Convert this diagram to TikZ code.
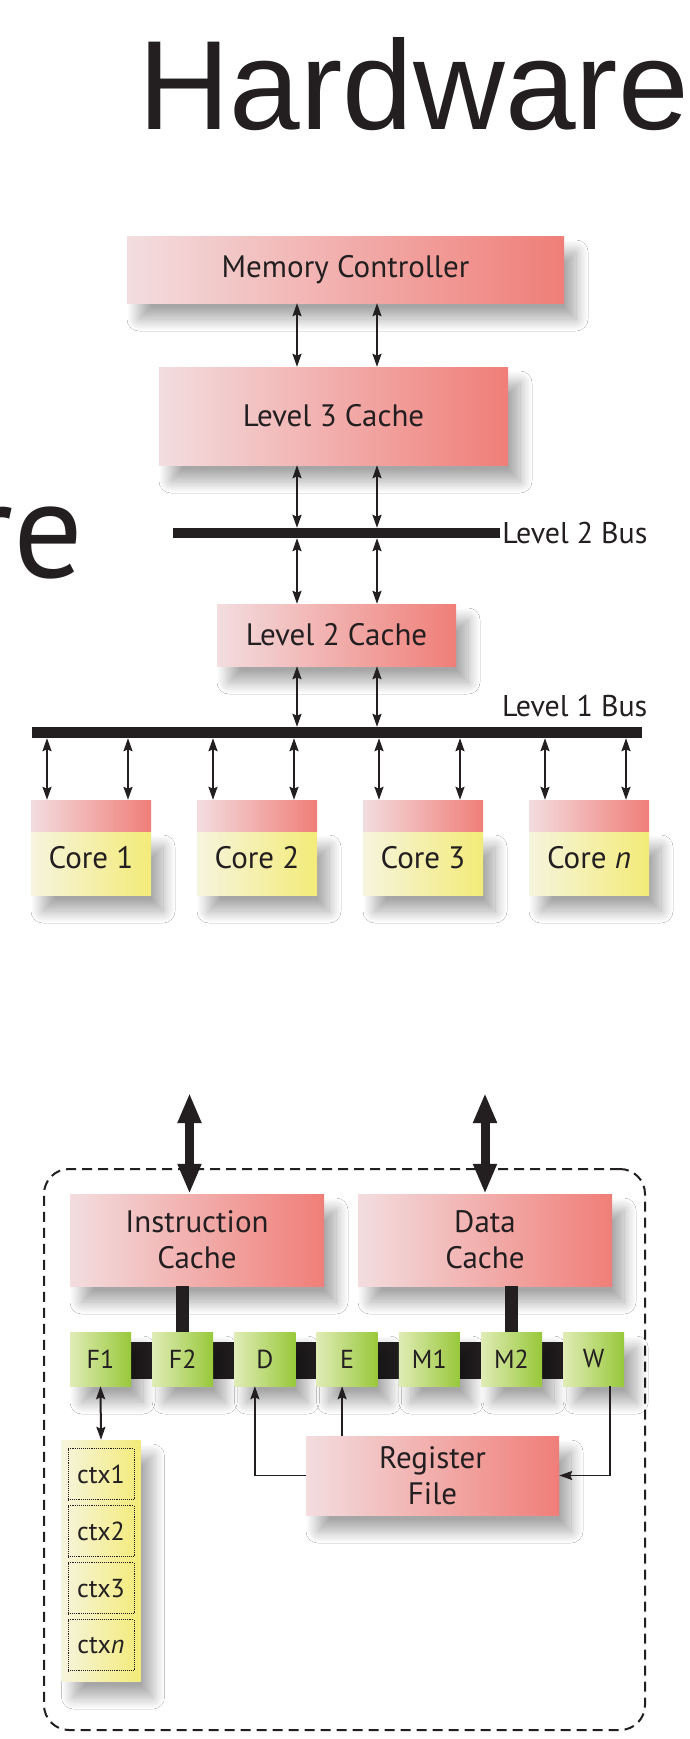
\documentclass[tikz,border=0pt]{standalone}
\usepackage{fontspec}
\setmainfont{PT Sans}
\newfontfamily\titlefont{Liberation Sans}
\usepackage{tikz}
\usetikzlibrary{shapes.geometric, arrows, arrows.meta, shadows.blur}
\definecolor{ink}{RGB}{35,31,32}
\definecolor{cacheL}{RGB}{243,221,223}
\definecolor{cacheR}{RGB}{240,126,120}
\definecolor{coreL}{RGB}{246,244,222}
\definecolor{coreR}{RGB}{243,235,120}
\definecolor{stageL}{RGB}{224,236,182}
\definecolor{stageR}{RGB}{152,200,58}
\tikzstyle{soft} = [blur shadow={shadow xshift=12pt, shadow yshift=-16pt, shadow blur radius=12pt, shadow blur steps=20, shadow opacity=35}]
\tikzstyle{cache} = [rectangle, inner sep=0pt, align=center, text=ink, left color=cacheL, right color=cacheR, soft, font=\fontsize{31}{36}\selectfont]
\tikzstyle{band} = [rectangle, inner sep=0pt, minimum width=120pt, minimum height=31pt, left color=cacheL, right color=cacheR]
\tikzstyle{corebox} = [rectangle, inner sep=0pt, minimum width=120pt, minimum height=64pt, text depth=12pt, text=ink, left color=coreL, right color=coreR, soft, font=\fontsize{31}{36}\selectfont]
\tikzstyle{stage} = [rectangle, inner sep=0pt, minimum width=61pt, minimum height=54pt, text=ink, left color=stageL, right color=stageR, soft, font=\fontsize{26}{30}\selectfont]
\tikzstyle{ctxcolumn} = [rectangle, inner sep=0pt, minimum width=79pt, minimum height=241pt, left color=coreL, right color=coreR, soft]
\tikzstyle{ctxbox} = [rectangle, inner sep=0pt, minimum width=66pt, minimum height=51pt, draw=ink, line width=0.9pt, densely dotted, text=ink, font=\fontsize{26}{30}\selectfont]
\tikzstyle{bar} = [rectangle, inner sep=0pt, fill=ink]
\tikzstyle{buslabel} = [inner sep=0pt, text=ink, font=\fontsize{30}{34}\selectfont]
\tikzstyle{frame} = [rectangle, draw=ink, line width=2pt, dash pattern=on 10pt off 6pt, rounded corners=25pt]
\tikzstyle{arrow} = [draw=ink, line width=2pt, {Stealth[length=13pt, width=9pt, inset=2pt]}-{Stealth[length=13pt, width=9pt, inset=2pt]}]
\tikzstyle{feed} = [draw=ink, line width=1.8pt, -{Stealth[length=13pt, width=9pt, inset=2pt]}]
\tikzstyle{bigarrow} = [draw=ink, line width=9pt, {Triangle[length=30pt, width=22pt]}-{Triangle[length=30pt, width=22pt]}]
\tikzstyle{cachelink} = [draw=ink, line width=13pt]
\begin{document}
\begin{tikzpicture}[x=1pt, y=-1pt, node distance=82.2pt]
\clip (0,0) rectangle (689,1739);
\fill[white] (0,0) rectangle (689,1739);

\node (title) [anchor=base east, inner sep=0pt, text=ink, font=\titlefont\fontsize{127}{130}\selectfont] at (689,130) {Hardware};
\node (side) [anchor=base east, inner sep=0pt, text=ink, font=\fontsize{138}{140}\selectfont] at (84,577) {re};

\node (mc) [cache, minimum width=437pt, minimum height=67pt] at (345.5,269.5) {Memory Controller};
\node (l3) [cache, minimum width=349pt, minimum height=98pt, below of=mc, node distance=146.5pt, xshift=-12pt] {Level 3 Cache};
\node (l2bus) [bar, minimum width=327pt, minimum height=10pt, below of=l3, node distance=117pt, xshift=3pt] {};
\node (l2label) [buslabel, anchor=west, xshift=2pt] at (l2bus.east) {Level 2 Bus};
\node (l2) [cache, minimum width=239pt, minimum height=62pt, below of=l2bus, node distance=102pt] {Level 2 Cache};
\node (l1bus) [bar, minimum width=610pt, minimum height=11pt, below of=l2, node distance=97.5pt] {};
\node (l1label) [buslabel, anchor=base west] at (502,716) {Level 1 Bus};

\coordinate (ax1) at (297,0);
\coordinate (ax2) at (377,0);
\draw [arrow] (mc.south -| ax1) -- (l3.north -| ax1);
\draw [arrow] (mc.south -| ax2) -- (l3.north -| ax2);
\draw [arrow] (l3.south -| ax1) -- (l2bus.north -| ax1);
\draw [arrow] (l3.south -| ax2) -- (l2bus.north -| ax2);
\draw [arrow] (l2bus.south -| ax1) -- (l2.north -| ax1);
\draw [arrow] (l2bus.south -| ax2) -- (l2.north -| ax2);
\draw [arrow] (l2.south -| ax1) -- (l1bus.north -| ax1);
\draw [arrow] (l2.south -| ax2) -- (l1bus.north -| ax2);

\node (core1) [corebox] at (91,863) {Core 1};
\node (core2) [corebox, right of=core1, node distance=166pt] {Core 2};
\node (core3) [corebox, right of=core2, node distance=166pt] {Core 3};
\node (coren) [corebox, right of=core3, node distance=166pt] {Core \textit{n}};
\node (band1) [band, above of=core1, node distance=47.5pt] {};
\node (band2) [band, above of=core2, node distance=47.5pt] {};
\node (band3) [band, above of=core3, node distance=47.5pt] {};
\node (bandn) [band, above of=coren, node distance=47.5pt] {};

\coordinate (c1a) at ([xshift=-44pt]band1.north);
\coordinate (c1b) at ([xshift=37pt]band1.north);
\coordinate (c2a) at ([xshift=-44pt]band2.north);
\coordinate (c2b) at ([xshift=37pt]band2.north);
\coordinate (c3a) at ([xshift=-44pt]band3.north);
\coordinate (c3b) at ([xshift=37pt]band3.north);
\coordinate (cna) at ([xshift=-44pt]bandn.north);
\coordinate (cnb) at ([xshift=37pt]bandn.north);
\draw [arrow] (l1bus.south -| c1a) -- (c1a);
\draw [arrow] (l1bus.south -| c1b) -- (c1b);
\draw [arrow] (l1bus.south -| c2a) -- (c2a);
\draw [arrow] (l1bus.south -| c2b) -- (c2b);
\draw [arrow] (l1bus.south -| c3a) -- (c3a);
\draw [arrow] (l1bus.south -| c3b) -- (c3b);
\draw [arrow] (l1bus.south -| cna) -- (cna);
\draw [arrow] (l1bus.south -| cnb) -- (cnb);

\node (frame) [frame, minimum width=601pt, minimum height=561pt] at (344.5,1449.5) {};
\node (icache) [cache, minimum width=254pt, minimum height=92pt] at (197,1240) {Instruction\\Cache};
\node (dcache) [cache, minimum width=254pt, minimum height=92pt, right of=icache, node distance=288pt] {Data\\Cache};
\node (pipe) [bar, minimum width=493pt, minimum height=37pt] at (347,1360.5) {};
\node (f1) [stage] at (100.5,1359) {F1};
\node (f2) [stage, right of=f1] {F2};
\node (d) [stage, right of=f2] {D};
\node (e) [stage, right of=d] {E};
\node (m1) [stage, right of=e] {M1};
\node (m2) [stage, right of=m1] {M2};
\node (w) [stage, right of=m2] {W};
\draw [cachelink] (icache.south -| f2.north) -- (f2.north);
\draw [cachelink] (dcache.south -| m2.north) -- (m2.north);

\coordinate (iport) at (189.5,1093);
\coordinate (dport) at (485,1093);
\draw [bigarrow] (iport) -- (iport |- icache.north);
\draw [bigarrow] (dport) -- (dport |- dcache.north);

\node (rf) [cache, minimum width=253pt, minimum height=79pt] at (432.5,1475.5) {Register\\File};
\node (ctxcol) [ctxcolumn] at (101,1560.5) {};
\node (ctx1) [ctxbox, yshift=-34.5pt] at (ctxcol.north) {ctx1};
\node (ctx2) [ctxbox, below of=ctx1, node distance=57pt] {ctx2};
\node (ctx3) [ctxbox, below of=ctx2, node distance=57pt] {ctx3};
\node (ctxn) [ctxbox, below of=ctx3, node distance=57pt] {ctx\textit{n}};

\draw [arrow] (f1.south) -- (ctxcol.north);
\draw [feed] (rf.west) -| ([xshift=-10pt]d.south);
\coordinate (etap) at ([xshift=-5pt]e.south);
\draw [feed] (etap |- rf.north) -- (etap);
\draw [feed] ([xshift=16.5pt]w.south) |- (rf.east);
\end{tikzpicture}
\end{document}
